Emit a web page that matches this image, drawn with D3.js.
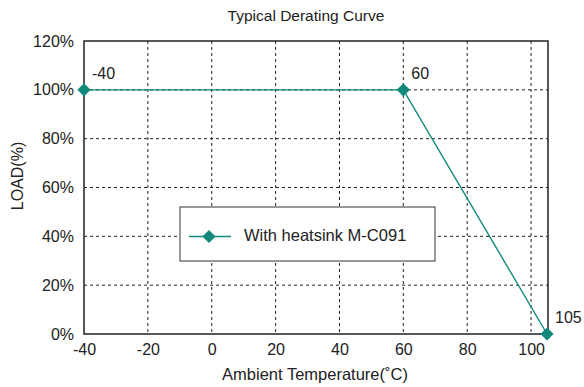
<!DOCTYPE html>
<html><head><meta charset="utf-8">
<script src="https://cdn.jsdelivr.net/npm/d3@7"></script>
<style>body{margin:0;background:#fff}svg{display:block}text{font-family:Arial,"Liberation Sans",sans-serif;fill:#222}</style>
</head><body><svg id="c" width="584" height="387"></svg>
<script>
const temps = [-40, 60, 105];
const loads = [100, 100, 0];
const pointLabels = ["-40", "60", "105"];
const xTicks = [-40, -20, 0, 20, 40, 60, 80, 100];
const yTicks = [0, 20, 40, 60, 80, 100, 120];
const seriesName = "With heatsink M-C091";
const color = "#12897a";

const svg = d3.select("#c");
const L = 84, R = 548, T = 41, B = 334;
const x = d3.scaleLinear().domain([-40, 105.3]).range([L, R]);
const y = d3.scaleLinear().domain([0, 120]).range([B, T]);

// grid
svg.append("g").selectAll("line").data(xTicks.filter(d => d > -40)).join("line")
  .attr("x1", d => x(d)).attr("x2", d => x(d)).attr("y1", T).attr("y2", B)
  .attr("stroke", "#222").attr("stroke-width", 1).attr("stroke-dasharray", "3,3");
svg.append("g").selectAll("line").data(yTicks.filter(d => d > 0 && d < 120)).join("line")
  .attr("x1", L).attr("x2", R).attr("y1", d => y(d)).attr("y2", d => y(d))
  .attr("stroke", "#222").attr("stroke-width", 1).attr("stroke-dasharray", "3,3");

// frame
svg.append("rect").attr("x", L).attr("y", T).attr("width", R - L).attr("height", B - T)
  .attr("fill", "none").attr("stroke", "#222").attr("stroke-width", 1.5);

// axes labels
const xa = svg.append("g").attr("transform", `translate(0,${B})`)
  .call(d3.axisBottom(x).tickValues(xTicks).tickSize(0).tickPadding(10).tickFormat(d => String(d)));
xa.select(".domain").remove();
xa.selectAll("text").style("font-size", "16px").attr("fill", "#222");
const ya = svg.append("g").attr("transform", `translate(${L},0)`)
  .call(d3.axisLeft(y).tickValues(yTicks).tickSize(0).tickPadding(10).tickFormat(d => d + "%"));
ya.select(".domain").remove();
ya.selectAll("text").style("font-size", "16px").attr("fill", "#222");

// line
const pts = temps.map((t, i) => ({t, l: loads[i], lab: pointLabels[i]}));
svg.append("path").datum(pts)
  .attr("d", d3.line().x(d => x(d.t)).y(d => y(d.l)))
  .attr("fill", "none").attr("stroke", color).attr("stroke-width", 1.4);
const diamond = d3.symbol().type(d3.symbolDiamond2).size(110);
svg.append("g").selectAll("path").data(pts).join("path")
  .attr("d", diamond).attr("transform", d => `translate(${x(d.t)},${y(d.l)})`).attr("fill", color);
svg.append("g").selectAll("text").data(pts).join("text")
  .attr("x", d => x(d.t) + 8).attr("y", d => y(d.l) - 11)
  .style("font-size", "16px").text(d => d.lab);

// legend
svg.append("rect").attr("x", 180).attr("y", 207).attr("width", 255).attr("height", 54)
  .attr("fill", "#fff").attr("stroke", "#333").attr("stroke-width", 1);
svg.append("line").attr("x1", 189).attr("x2", 231).attr("y1", 236.5).attr("y2", 236.5)
  .attr("stroke", color).attr("stroke-width", 1.4);
svg.append("path").attr("d", diamond).attr("transform", "translate(209,236.5)").attr("fill", color);
svg.append("text").attr("x", 244).attr("y", 241).style("font-size", "16.5px").text(seriesName);

// titles
svg.append("text").attr("x", 306).attr("y", 21).attr("text-anchor", "middle")
  .style("font-size", "15.5px").text("Typical Derating Curve");
svg.append("text").attr("x", 315).attr("y", 380).attr("text-anchor", "middle")
  .style("font-size", "16.5px").text("Ambient Temperature(˚C)");
svg.append("text").attr("transform", "translate(23,176) rotate(-90)").attr("text-anchor", "middle")
  .style("font-size", "16px").text("LOAD(%)");
</script></body></html>
